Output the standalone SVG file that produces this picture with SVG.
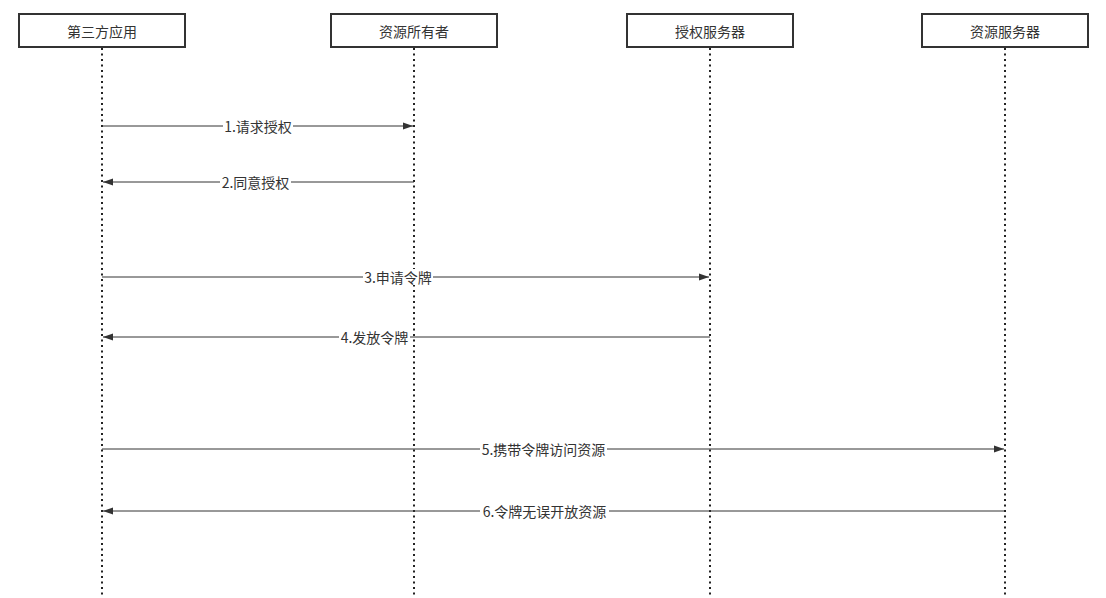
<svg xmlns="http://www.w3.org/2000/svg" width="1106" height="598" viewBox="0 0 1106 598">
<defs>
<marker id="ah" markerWidth="10" markerHeight="8" refX="10" refY="4" orient="auto" markerUnits="userSpaceOnUse">
<path d="M0,0.5 L10,4 L0,7.5 Z" fill="#333"/>
</marker>
<style>
.box{fill:#fff;stroke:#333;stroke-width:2}
.life{stroke:#222;stroke-width:2;stroke-dasharray:2 3.5;fill:none}
.msg{stroke:#333;stroke-width:1;fill:none;marker-end:url(#ah)}
.lbl{fill:#fff}
text{font-family:"Noto Sans CJK SC","Liberation Sans",sans-serif;font-size:14px;fill:#333;text-anchor:middle;dominant-baseline:central}
</style>
</defs>
<rect width="1106" height="598" fill="#fff"/>
<g id="lifelines">
<line class="life" x1="102" y1="48" x2="102" y2="598"/>
<line class="life" x1="414" y1="48" x2="414" y2="598"/>
<line class="life" x1="710" y1="48" x2="710" y2="598"/>
<line class="life" x1="1005" y1="48" x2="1005" y2="598"/>
</g>
<g id="node-app"><rect class="box" x="19" y="14" width="166" height="33"/><text x="102" y="30.5">第三方应用</text></g>
<g id="node-owner"><rect class="box" x="331" y="14" width="166" height="33"/><text x="414" y="30.5">资源所有者</text></g>
<g id="node-auth"><rect class="box" x="627" y="14" width="166" height="33"/><text x="710" y="30.5">授权服务器</text></g>
<g id="node-res"><rect class="box" x="922" y="14" width="166" height="33"/><text x="1005" y="30.5">资源服务器</text></g>
<g id="connectors">
<line class="msg" x1="102" y1="126" x2="413" y2="126"/>
<rect class="lbl" x="223" y="118" width="70" height="16"/><text x="258" y="126">1.请求授权</text>
<line class="msg" x1="414" y1="182" x2="103" y2="182"/>
<rect class="lbl" x="220" y="174" width="71" height="16"/><text x="255.5" y="182">2.同意授权</text>
<line class="msg" x1="102" y1="277" x2="709" y2="277"/>
<rect class="lbl" x="363" y="269" width="70" height="16"/><text x="398" y="277">3.申请令牌</text>
<line class="msg" x1="710" y1="337" x2="103" y2="337"/>
<rect class="lbl" x="339" y="329" width="71" height="16"/><text x="374.5" y="337">4.发放令牌</text>
<line class="msg" x1="102" y1="449" x2="1004" y2="449"/>
<rect class="lbl" x="480" y="441" width="127" height="16"/><text x="543.5" y="449">5.携带令牌访问资源</text>
<line class="msg" x1="1005" y1="511" x2="103" y2="511"/>
<rect class="lbl" x="480" y="503" width="129" height="16"/><text x="544.5" y="511">6.令牌无误开放资源</text>
</g>
</svg>
